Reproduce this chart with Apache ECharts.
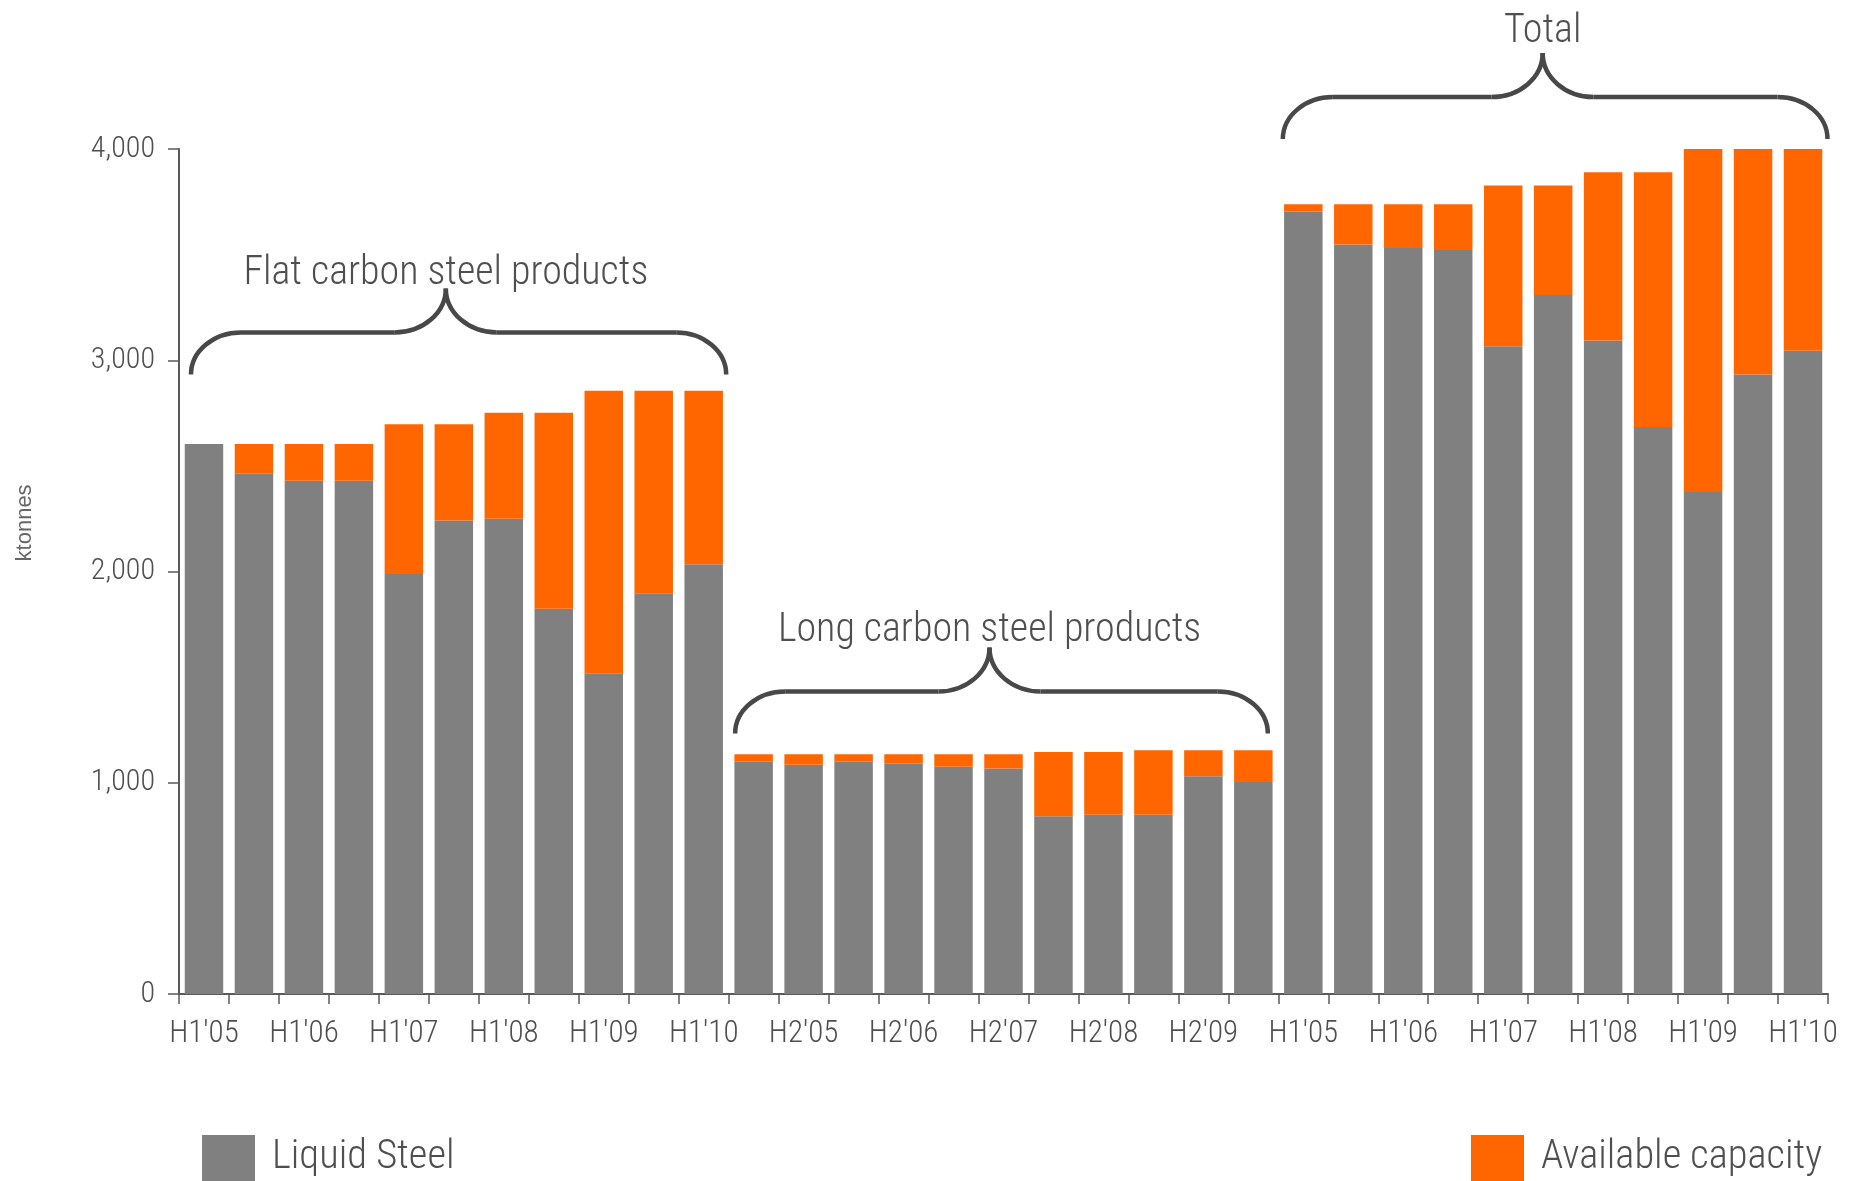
<!DOCTYPE html>
<html>
<head>
<meta charset="utf-8">
<script src="https://cdn.jsdelivr.net/npm/echarts@6/dist/echarts.min.js"></script>
<style>
  html, body { margin: 0; padding: 0; background: #ffffff; }
  #chart { width: 1854px; height: 1181px; }
</style>
</head>
<body>
<div id="chart"></div>
<script>
// ---- Data ----
const periods = ["H1'05", "H2'05", "H1'06", "H2'06", "H1'07", "H2'07", "H1'08", "H2'08", "H1'09", "H2'09", "H1'10"];
const flatLiquid    = [2603, 2465, 2430, 2430, 1988, 2242, 2250, 1824, 1518, 1897, 2034];
const flatCapacity  = [2603, 2603, 2603, 2603, 2697, 2697, 2752, 2752, 2856, 2856, 2856];
const longLiquid    = [1100, 1085, 1099, 1090, 1076, 1067, 841, 848, 848, 1031, 1003];
const longCapacity  = [1135, 1135, 1135, 1135, 1135, 1135, 1145, 1145, 1154, 1154, 1154];
const totalLiquid   = [3704, 3548, 3531, 3522, 3066, 3309, 3094, 2684, 2376, 2932, 3045];
const totalCapacity = [3738, 3738, 3738, 3738, 3827, 3827, 3890, 3890, 4000, 4000, 4000];
const groupNames = ['Flat carbon steel products', 'Long carbon steel products', 'Total'];
const seriesNames = ['Liquid Steel', 'Available capacity'];
const yTicks = [0, 1000, 2000, 3000, 4000];
const yUnit = 'ktonnes';

// ---- Build ----
const categories = periods.concat(periods, periods);
const liquid = flatLiquid.concat(longLiquid, totalLiquid);
const capacity = flatCapacity.concat(longCapacity, totalCapacity);
const available = capacity.map((c, i) => c - liquid[i]);

const FONT = "'Roboto Condensed', 'Open Sans Condensed', 'Liberation Sans Narrow', 'DejaVu Sans Condensed', sans-serif";
const TEXT = '#4f4f4f';
const AXIS = '#5a5a5a';

const chart = echarts.init(document.getElementById('chart'), null, { renderer: 'canvas' });

const legendCommon = {
  orient: 'horizontal',
  top: 1134,
  padding: 0,
  itemWidth: 53,
  itemHeight: 46,
  icon: 'rect',
  selectedMode: false,
  textStyle: { fontFamily: FONT, fontWeight: 300, fontSize: 40.5, color: TEXT, lineHeight: 40, padding: [0, 0, 8, 12] }
};

chart.setOption({
  animation: false,
  backgroundColor: '#ffffff',
  grid: { left: 179, right: 26, top: 149, bottom: 187, containLabel: false },
  legend: [
    Object.assign({}, legendCommon, { data: [seriesNames[0]], left: 202 }),
    Object.assign({}, legendCommon, { data: [seriesNames[1]], left: 1471 })
  ],
  xAxis: {
    type: 'category',
    data: categories,
    boundaryGap: true,
    axisLine: { show: true, lineStyle: { color: AXIS, width: 2 } },
    axisTick: { show: true, interval: 0, length: 10, alignWithLabel: false, lineStyle: { color: AXIS, width: 1.5 } },
    axisLabel: { interval: 1, margin: 25, fontFamily: FONT, fontWeight: 300, fontSize: 31, color: TEXT },
    splitLine: { show: false }
  },
  yAxis: {
    type: 'value',
    min: yTicks[0],
    max: yTicks[yTicks.length - 1],
    interval: yTicks[1] - yTicks[0],
    axisLine: { show: true, lineStyle: { color: AXIS, width: 2 } },
    axisTick: { show: true, length: 11, lineStyle: { color: AXIS, width: 1.5 } },
    axisLabel: {
      margin: 24, fontFamily: FONT, fontWeight: 300, fontSize: 30, color: TEXT,
      formatter: v => v.toLocaleString('en-US')
    },
    splitLine: { show: false }
  },
  series: [
    { name: seriesNames[0], type: 'bar', stack: 'steel', barWidth: '77%', data: liquid,
      itemStyle: { color: '#808080' } },
    { name: seriesNames[1], type: 'bar', stack: 'steel', barWidth: '77%', data: available,
      itemStyle: { color: '#ff6600' } }
  ]
});

// ---- Annotations: braces + group titles, placed through the axes ----
const c0 = chart.convertToPixel({ xAxisIndex: 0 }, 0);
const c1 = chart.convertToPixel({ xAxisIndex: 0 }, 1);
const bw = c1 - c0;
const xAt = i => c0 + i * bw;
const yAt = v => chart.convertToPixel({ yAxisIndex: 0 }, v);

// left end / cusp / right end given in category-index units; yEnd in data units
const braces = [
  { name: groupNames[0], l: -0.26, c: 4.84, r: 10.45, yEnd: 2933, textGap: 14 },
  { name: groupNames[1], l: 10.63, c: 15.72, r: 21.29, yEnd: 1233, textGap: 17 },
  { name: groupNames[2], l: 21.59, c: 26.79, r: 32.49, yEnd: 4047, textGap: 21 }
];

const K = 0.5523;
const RISE = 42, CUSP = 44, RE = 50, RC = 51;
const strokeStyle = { stroke: '#484848', lineWidth: 4.5, fill: null };
const elements = [];
braces.forEach(b => {
  const xl = xAt(b.l), xc = xAt(b.c), xr = xAt(b.r);
  const yE = yAt(b.yEnd), yF = yE - RISE, yT = yF - CUSP;
  const bez = (x1, y1, cpx1, cpy1, cpx2, cpy2, x2, y2) => ({
    type: 'bezierCurve', silent: true, z: 100,
    shape: { x1, y1, cpx1, cpy1, cpx2, cpy2, x2, y2 }, style: strokeStyle
  });
  const line = (x1, y1, x2, y2) => ({
    type: 'line', silent: true, z: 100, shape: { x1, y1, x2, y2 }, style: strokeStyle
  });
  elements.push(bez(xl, yE, xl, yE - K * RISE, xl + RE * (1 - K), yF, xl + RE, yF));
  elements.push(line(xl + RE, yF, xc - RC, yF));
  elements.push(bez(xc - RC, yF, xc - RC * (1 - K), yF, xc, yT + K * CUSP, xc, yT));
  elements.push(bez(xc + RC, yF, xc + RC * (1 - K), yF, xc, yT + K * CUSP, xc, yT));
  elements.push(line(xc + RC, yF, xr - RE, yF));
  elements.push(bez(xr, yE, xr, yE - K * RISE, xr - RE * (1 - K), yF, xr - RE, yF));
  elements.push({
    type: 'text', silent: true, z: 100, x: xc, y: yT - b.textGap,
    style: { text: b.name, fontFamily: FONT, fontWeight: 300, fontSize: 40, fill: TEXT, align: 'center', verticalAlign: 'middle' }
  });
});
elements.push({
  type: 'text', silent: true, x: 25, y: yAt(2230), rotation: Math.PI / 2,
  style: { text: yUnit, fontFamily: "'Liberation Sans', Arial, sans-serif", fontSize: 22, fill: '#666666',
           align: 'center', verticalAlign: 'middle' }
});

chart.setOption({ graphic: { elements } });
</script>
</body>
</html>
